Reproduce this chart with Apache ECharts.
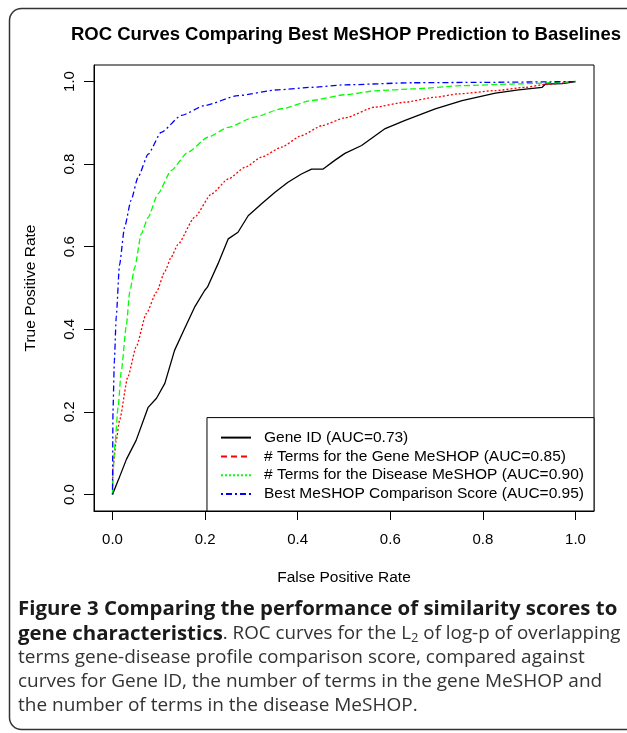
<!DOCTYPE html>
<html>
<head>
<meta charset="utf-8">
<title>ROC Curves</title>
<script type="text/javascript" src="https://cdn.jsdelivr.net/npm/echarts@6/dist/echarts.min.js"></script>
<style>
  html, body { margin: 0; padding: 0; background: #fff; }
  #main { width: 627px; height: 733px; }
</style>
</head>
<body>
<div id="main"></div>
<script type="text/javascript">
// curve names (legend order)
var seriesNames = [
    'Gene ID (AUC=0.73)',
    '# Terms for the Gene MeSHOP (AUC=0.85)',
    '# Terms for the Disease MeSHOP (AUC=0.90)',
    'Best MeSHOP Comparison Score (AUC=0.95)'
];
var tickValues = [0, 0.2, 0.4, 0.6, 0.8, 1.0];

// Gene ID
var geneIdFpr = [0, 0.012, 0.015, 0.03, 0.051, 0.077, 0.095, 0.113, 0.134, 0.155, 0.177, 0.199, 0.205, 0.228, 0.25, 0.271, 0.293, 0.322, 0.351, 0.379, 0.408, 0.43, 0.455, 0.48, 0.502, 0.538, 0.589, 0.632, 0.697, 0.755, 0.827, 0.877, 0.928, 0.935, 0.971, 1.0];
var geneIdTpr = [0, 0.034, 0.042, 0.085, 0.131, 0.211, 0.233, 0.269, 0.349, 0.40, 0.453, 0.494, 0.502, 0.559, 0.619, 0.635, 0.675, 0.704, 0.732, 0.756, 0.776, 0.788, 0.788, 0.809, 0.826, 0.845, 0.886, 0.906, 0.934, 0.954, 0.972, 0.98, 0.986, 0.994, 0.995, 1.0];
// # terms for the gene MeSHOP
var geneTermsFpr = [0, 0.001, 0.008, 0.015, 0.033, 0.051, 0.073, 0.095, 0.113, 0.127, 0.141, 0.177, 0.214, 0.25, 0.286, 0.322, 0.365, 0.408, 0.452, 0.502, 0.567, 0.632, 0.697, 0.747, 0.827, 0.892, 0.935, 1.0];
var geneTermsTpr = [0, 0.066, 0.13, 0.179, 0.284, 0.357, 0.438, 0.49, 0.54, 0.575, 0.605, 0.671, 0.728, 0.764, 0.792, 0.817, 0.841, 0.869, 0.893, 0.912, 0.938, 0.95, 0.962, 0.97, 0.978, 0.986, 0.993, 1.0];
// # terms for the disease MeSHOP
var diseaseTermsFpr = [0, 0.001, 0.005, 0.012, 0.019, 0.03, 0.037, 0.048, 0.062, 0.077, 0.098, 0.127, 0.163, 0.206, 0.25, 0.307, 0.365, 0.43, 0.502, 0.574, 0.647, 0.755, 0.863, 1.0];
var diseaseTermsTpr = [0, 0.05, 0.12, 0.211, 0.3, 0.41, 0.49, 0.55, 0.631, 0.671, 0.728, 0.785, 0.829, 0.865, 0.889, 0.914, 0.934, 0.954, 0.968, 0.978, 0.982, 0.99, 0.994, 1.0];
// best MeSHOP comparison score
var bestScoreFpr = [0, 0.001, 0.004, 0.008, 0.015, 0.026, 0.04, 0.055, 0.077, 0.105, 0.149, 0.199, 0.271, 0.358, 0.43, 0.502, 0.647, 0.8, 1.0];
var bestScoreTpr = [0, 0.203, 0.324, 0.43, 0.555, 0.647, 0.712, 0.768, 0.824, 0.877, 0.918, 0.942, 0.966, 0.98, 0.986, 0.992, 0.997, 0.998, 1.0];

function pairs(xs, ys) {
    return xs.map(function (x, i) { return [x, ys[i]]; });
}

var font = "'Liberation Sans', Arial, sans-serif";
var capFont = "'Open Sans', 'Noto Sans', sans-serif";

var myChart = echarts.init(document.getElementById('main'));

function curve(name, xs, ys, color, dash, smooth) {
    return {
        name: name,
        type: 'line',
        data: pairs(xs, ys),
        symbol: 'none',
        smooth: smooth,
        smoothMonotone: 'x',
        animation: false,
        lineStyle: { color: color, width: 1.3, type: dash },
        itemStyle: { color: color }
    };
}

function fmt(v) { return v.toFixed(1); }

myChart.setOption({
    animation: false,
    title: {
        text: 'ROC Curves Comparing Best MeSHOP Prediction to Baselines',
        left: 66,
        top: 20,
        textStyle: { fontFamily: font, fontSize: 18.5, fontWeight: 'bold', color: '#000' }
    },
    legend: {
        orient: 'vertical',
        right: 33,
        bottom: 222,
        padding: [12, 10, 9, 13],
        itemWidth: 30,
        itemHeight: 16,
        itemGap: 2.8,
        borderColor: '#000',
        borderWidth: 1,
        borderRadius: 0,
        backgroundColor: '#fff',
        selectedMode: false,
        itemStyle: { color: 'rgba(0,0,0,0)', borderWidth: 0 },
        textStyle: { fontFamily: font, fontSize: 15.5, lineHeight: 16, color: '#000', padding: [0, 0, 0, 8] },
        data: [
            { name: seriesNames[0], lineStyle: { type: 'solid' } },
            { name: seriesNames[1], lineStyle: { type: [6, 4] } },
            { name: seriesNames[2], lineStyle: { type: [2, 2] } },
            { name: seriesNames[3], lineStyle: { type: [2, 3, 6, 3] } }
        ]
    },
    // plot box; R pads the data range by 4% on each side
    grid: { left: 94, top: 65, width: 500, height: 446, show: true, borderColor: '#000', borderWidth: 1, backgroundColor: 'transparent' },
    xAxis: {
        type: 'value', min: -0.04, max: 1.04,
        name: 'False Positive Rate', nameLocation: 'middle', nameGap: 59,
        nameTextStyle: { fontFamily: font, fontSize: 15.5, color: '#000' },
        axisLine: { show: true, onZero: false, lineStyle: { color: '#000', width: 1 } },
        axisTick: { show: true, length: 9, customValues: tickValues, lineStyle: { color: '#000' } },
        axisLabel: { margin: 21, fontFamily: font, fontSize: 15, color: '#000', customValues: tickValues, formatter: fmt },
        splitLine: { show: false }
    },
    yAxis: {
        type: 'value', min: -0.04, max: 1.04,
        name: 'True Positive Rate', nameLocation: 'middle', nameGap: 55,
        nameTextStyle: { fontFamily: font, fontSize: 15.5, color: '#000' },
        axisLine: { show: true, onZero: false, lineStyle: { color: '#000', width: 1 } },
        axisTick: { show: true, length: 10, customValues: tickValues, lineStyle: { color: '#000' } },
        axisLabel: { rotate: 90, margin: 17, fontFamily: font, fontSize: 15, color: '#000', customValues: tickValues, formatter: fmt },
        splitLine: { show: false }
    },
    series: [
        curve(seriesNames[0], geneIdFpr, geneIdTpr, '#000000', 'solid', false),
        curve(seriesNames[1], geneTermsFpr, geneTermsTpr, '#ff0000', [2, 2], 0.2),
        curve(seriesNames[2], diseaseTermsFpr, diseaseTermsTpr, '#00ff00', [6, 3], 0.2),
        curve(seriesNames[3], bestScoreFpr, bestScoreTpr, '#0000ff', [2, 3, 6, 3], 0.2)
    ],
    graphic: [
        {
            type: 'rect', z: -10, silent: true,
            shape: { x: 9.5, y: 8.5, width: 640, height: 721, r: 12 },
            style: { fill: 'none', stroke: '#333', lineWidth: 1.5 }
        },
        {
            type: 'text', x: 18, y: 609, silent: true,
            style: { text: 'Figure 3 Comparing the performance of similarity scores to',
                fontFamily: capFont, fontSize: 20.4, fontWeight: 'bold', fill: '#1a1a1a', textVerticalAlign: 'middle' }
        },
        {
            type: 'text', x: 18, y: 634, silent: true,
            style: {
                text: '{b|gene characteristics}{n|. ROC curves for the L}{s|2}{n| of log-p of overlapping}',
                fontFamily: capFont, fontSize: 19, fill: '#333', textVerticalAlign: 'middle',
                rich: {
                    b: { fontFamily: capFont, fontSize: 20.4, fontWeight: 'bold', fill: '#1a1a1a', lineHeight: 24 },
                    n: { fontFamily: capFont, fontSize: 18.8, fill: '#333', lineHeight: 24 },
                    s: { fontFamily: capFont, fontSize: 13, fill: '#333', lineHeight: 24, padding: [9, 0, 0, 0] }
                }
            }
        },
        {
            type: 'text', x: 18, y: 658, silent: true,
            style: { text: 'terms gene-disease profile comparison score, compared against',
                fontFamily: capFont, fontSize: 19, fill: '#333', textVerticalAlign: 'middle' }
        },
        {
            type: 'text', x: 18, y: 682, silent: true,
            style: { text: 'curves for Gene ID, the number of terms in the gene MeSHOP and',
                fontFamily: capFont, fontSize: 19, fill: '#333', textVerticalAlign: 'middle' }
        },
        {
            type: 'text', x: 18, y: 706, silent: true,
            style: { text: 'the number of terms in the disease MeSHOP.',
                fontFamily: capFont, fontSize: 19, fill: '#333', textVerticalAlign: 'middle' }
        }
    ]
});
</script>
</body>
</html>
